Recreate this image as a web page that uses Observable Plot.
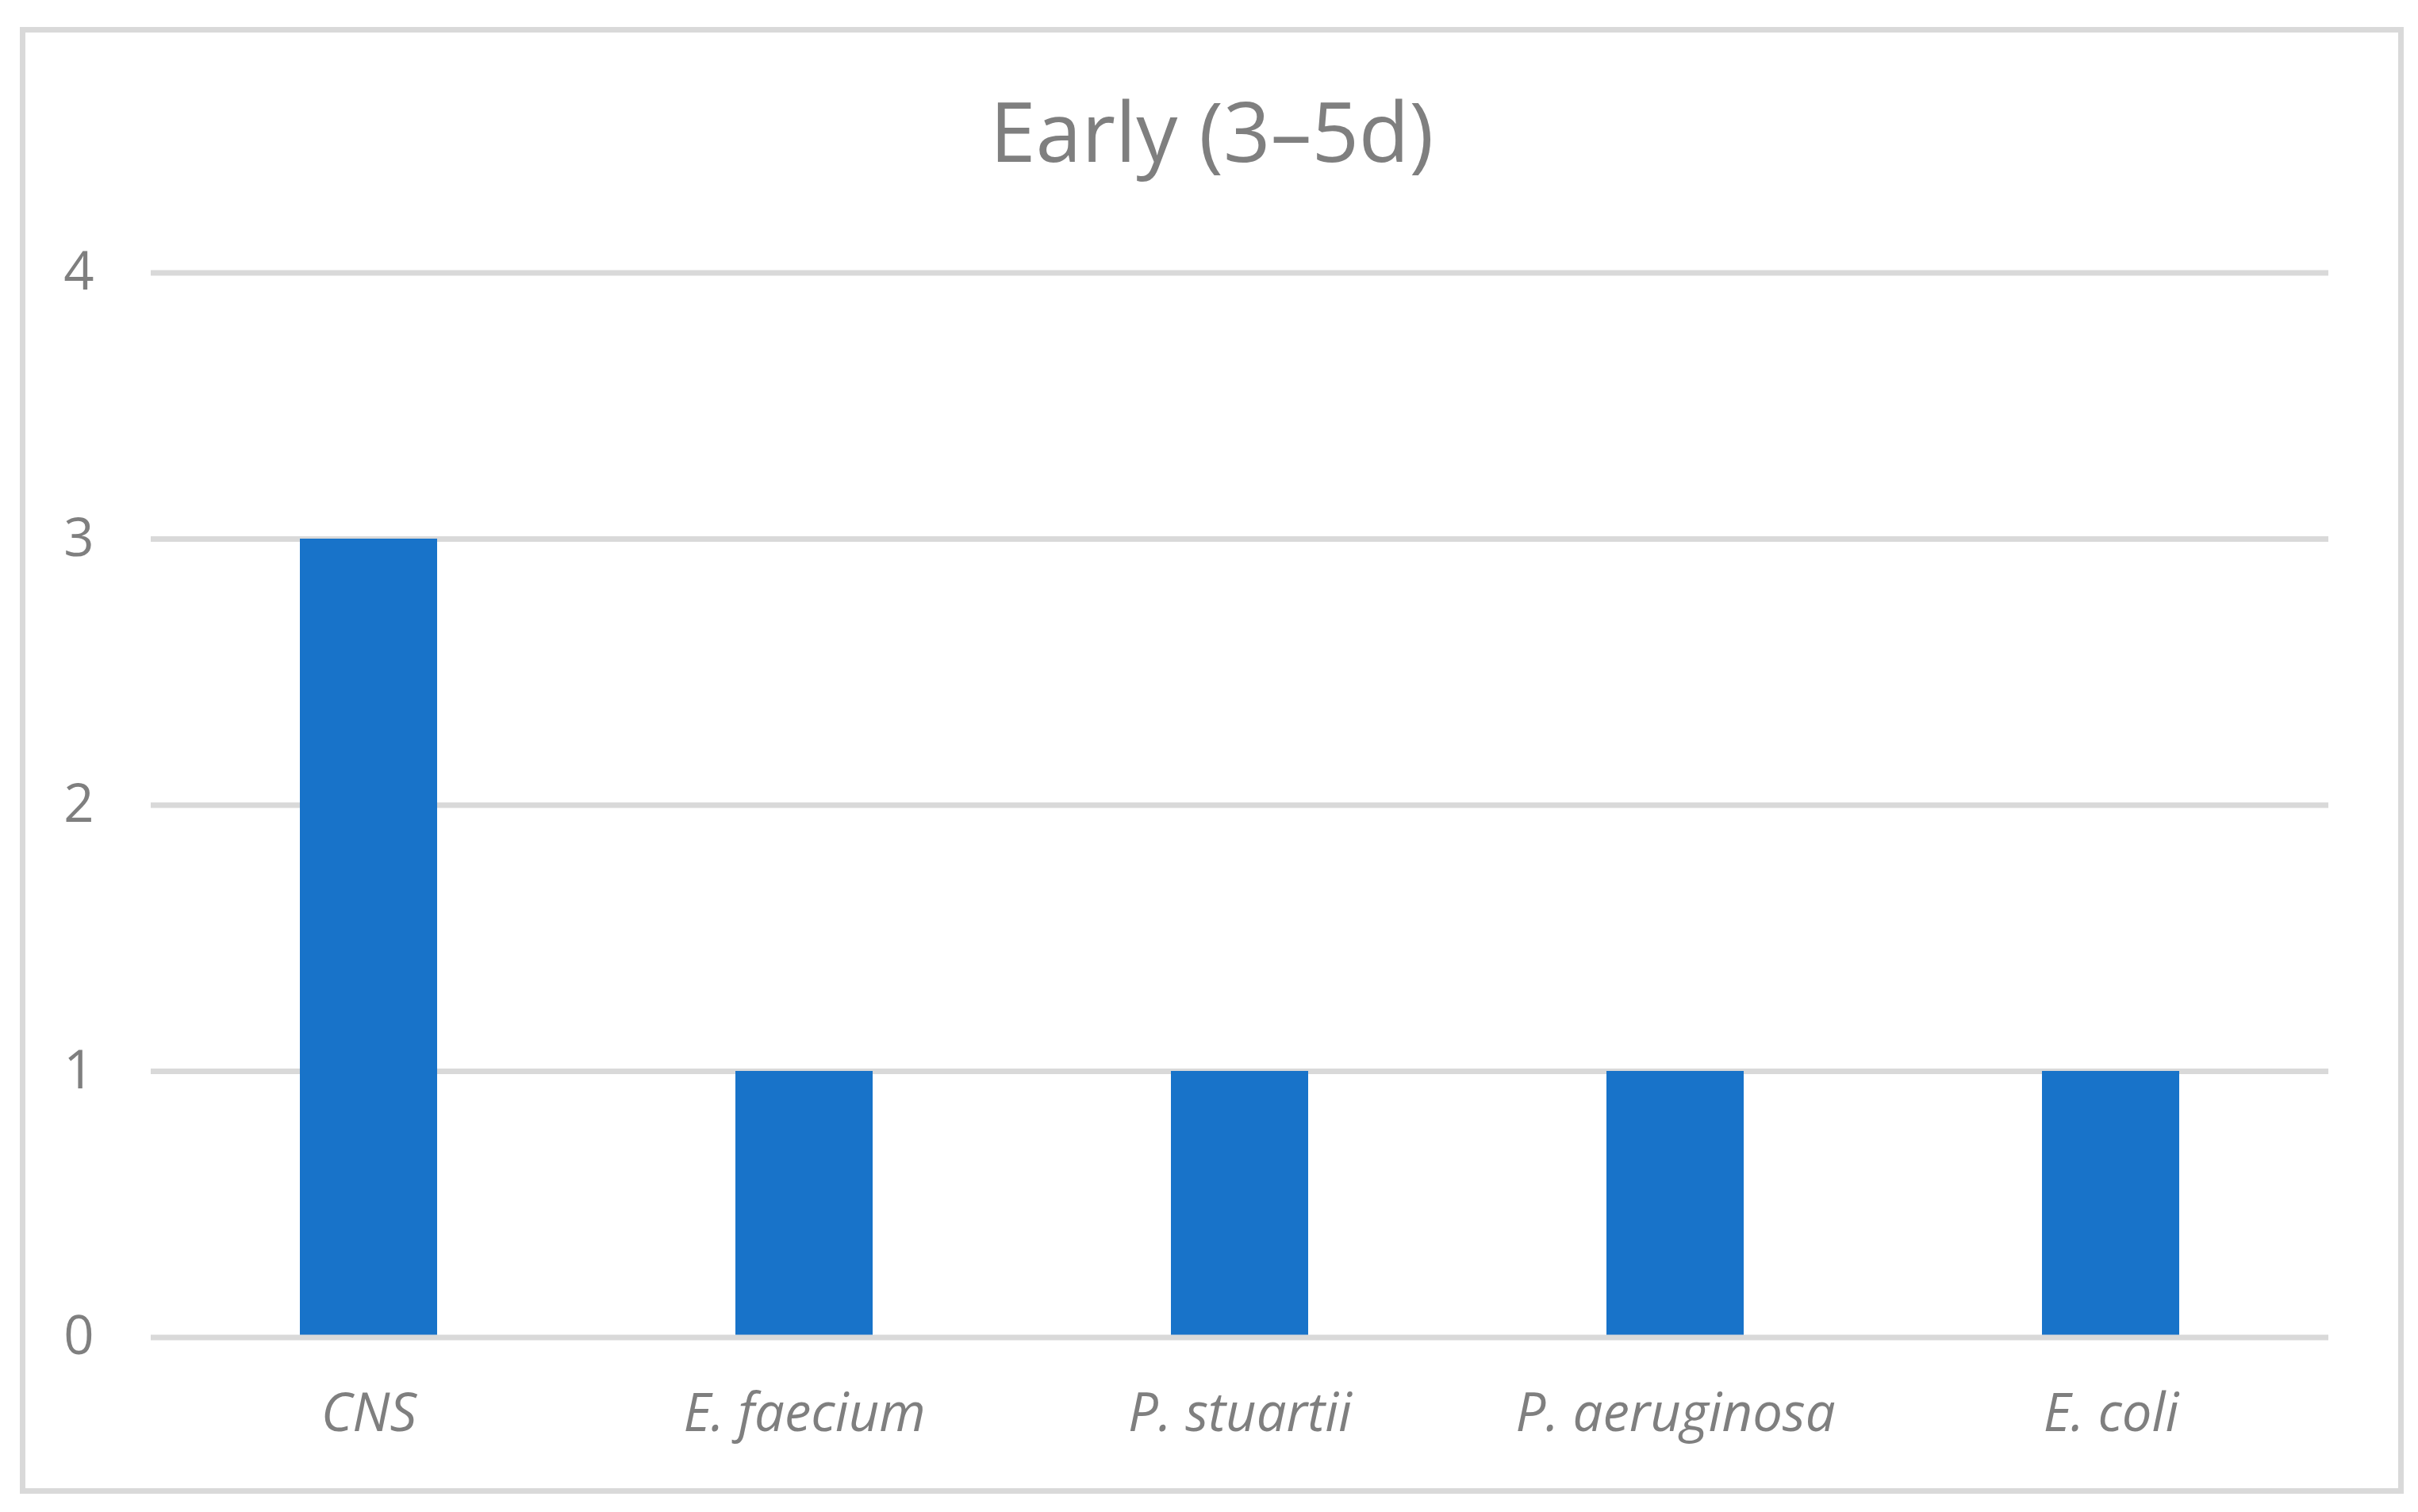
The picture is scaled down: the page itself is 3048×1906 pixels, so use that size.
<!DOCTYPE html>
<html>
<head>
<meta charset="utf-8">
<script src="https://cdn.jsdelivr.net/npm/d3@7"></script>
<script src="https://cdn.jsdelivr.net/npm/@observablehq/plot@0.6"></script>
<style>
  html, body { margin: 0; padding: 0; background: #ffffff; }
  #page { position: relative; width: 3048px; height: 1906px; overflow: hidden; background: #fff; }
  #frame { position: absolute; left: 25px; top: 34px; width: 2991px; height: 1835px; border: 7px solid #d9d9d9; }
  #title { position: absolute; left: 0; width: 3055px; top: 96px; text-align: center;
           font-family: "Open Sans", sans-serif; font-size: 104px; color: #7f7f7f; line-height: 1.3; }
  #chart { position: absolute; left: 0; top: 250px; }
</style>
</head>
<body>
<div id="page">
  <div id="frame"></div>
  <div id="title">Early (3–5d)</div>
  <div id="chart"></div>
</div>
<script>
const categories = ["CNS", "E. faecium", "P. stuartii", "P. aeruginosa", "E. coli"];
const counts = [3, 1, 1, 1, 1];
const yTicks = [0, 1, 2, 3, 4];

const data = categories.map((c, i) => ({category: c, count: counts[i]}));

const svgTop = 250;
const plot = Plot.plot({
  width: 3048,
  height: 1906 - svgTop,
  marginLeft: 190,
  marginRight: 113,
  marginTop: 343.5 - svgTop,
  marginBottom: 1906 - 1685.5,
  style: {fontFamily: "Open Sans, sans-serif", fontSize: "67px", color: "#7f7f7f", background: "transparent"},
  x: {domain: categories, label: null, paddingInner: 0.685, paddingOuter: 0.3425, align: 0.5},
  y: {domain: [0, 4], label: null, ticks: yTicks},
  marks: [
    Plot.ruleY(yTicks.filter(d => d !== 0), {stroke: "#d9d9d9", strokeWidth: 7}),
    Plot.barY(data, {x: "category", y: "count", fill: "#1873c9"}),
    Plot.ruleY([0], {stroke: "#d9d9d9", strokeWidth: 7}),
    Plot.axisY({ticks: yTicks, tickFormat: d3.format("d"), tickSize: 0, tickPadding: 72, fill: "#7f7f7f", fontSize: 67, label: null}),
    Plot.axisX({tickSize: 0, tickPadding: 70, fill: "#7f7f7f", fontSize: 67, label: null, fontStyle: "italic"})
  ]
});
document.getElementById("chart").appendChild(plot);
</script>
</body>
</html>
